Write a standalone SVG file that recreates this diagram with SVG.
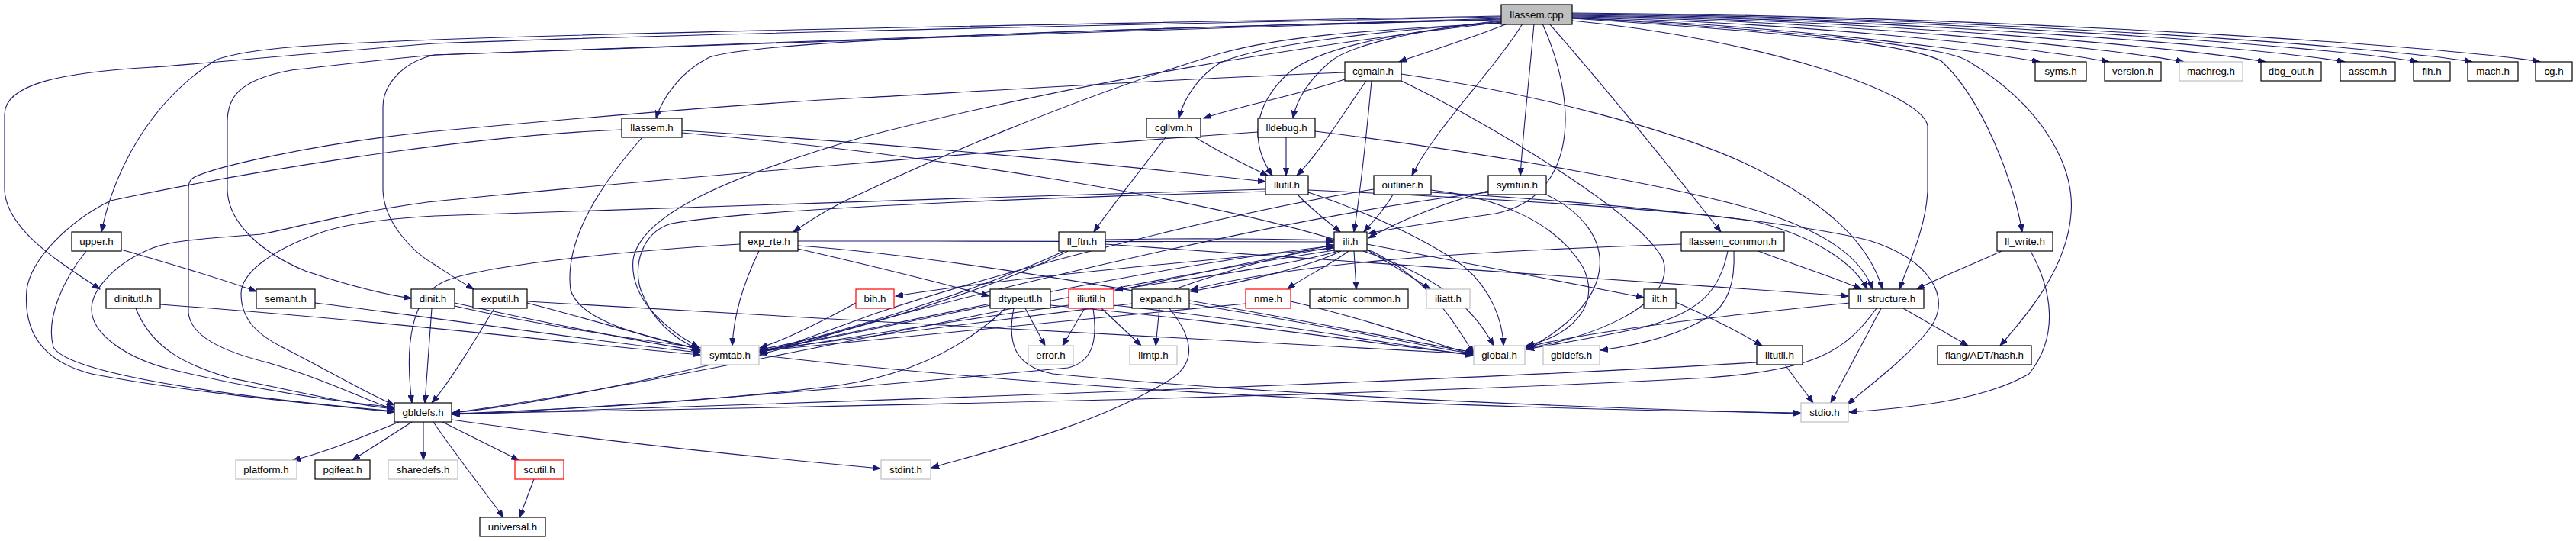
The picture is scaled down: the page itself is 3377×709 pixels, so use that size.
<svg xmlns="http://www.w3.org/2000/svg" width="3377" height="709" viewBox="0 0 3377 709">
<style>
text{font-family:"Liberation Sans",Arial,sans-serif;font-size:13.33px;text-anchor:middle;fill:#000}
rect{fill:#fff;stroke:#000;stroke-width:1.2}
.g rect{stroke:#bfbfbf}
.r rect{stroke:#ff0000}
.root rect{fill:#bfbfbf}
.e path{fill:none;stroke:#191970;stroke-width:1.1;marker-end:url(#a)}
</style>
<defs>
<marker id="a" markerWidth="11" markerHeight="8" refX="10" refY="4" orient="auto" markerUnits="userSpaceOnUse">
<path d="M0,0.3 L10,4 L0,7.7 z" fill="#191970" stroke="#191970" stroke-width="1"/>
</marker>
</defs>
<rect x="0" y="0" width="3377" height="709" style="fill:#fff;stroke:none"/>
<g class="e" id="connectors">
<!-- root -->
<path d="M1976,31 C1930,50 1870,68 1834,81"/>
<path d="M2061,24 C2300,30 2560,62 2674,81"/>
<path d="M2061,23 C2350,28 2660,62 2765,81"/>
<path d="M2061,22 C2400,26 2760,62 2863,81"/>
<path d="M2061,21 C2450,25 2860,62 2970,81"/>
<path d="M2061,20 C2500,24 2960,62 3074,81"/>
<path d="M2061,19 C2550,23 3060,62 3170,81"/>
<path d="M2061,18 C2600,22 3130,62 3241,81"/>
<path d="M2061,17 C2650,21 3220,62 3330,81"/>
<path d="M1968,26 C1500,36 1000,52 930,75 C890,95 868,130 860,155"/>
<path d="M1970,30 C1800,40 1650,60 1600,82 C1570,100 1552,130 1545,155"/>
<path d="M1968,27 C1850,40 1770,60 1745,80 C1715,105 1700,130 1695,155"/>
<path d="M1968,28 C1800,45 1720,70 1690,95 C1640,140 1640,190 1668,230"/>
<path d="M1996,31 C1960,90 1880,170 1851,230"/>
<path d="M2011,31 C2005,100 1997,170 1993,230"/>
<path d="M2022,31 C2075,150 2060,260 1960,280 C1880,292 1830,298 1794,306"/>
<path d="M2031,31 C2100,110 2190,220 2256,304"/>
<path d="M2061,24 C2300,40 2500,55 2545,80 C2600,130 2640,240 2651,304"/>
<path d="M2061,23 C2350,40 2550,60 2580,80 C2680,140 2720,220 2715,280 C2710,350 2660,410 2622,453"/>
<path d="M2061,27 C2300,50 2520,120 2527,165 L2527,250 C2525,300 2500,350 2490,379"/>
<path d="M1968,21 C1500,30 900,40 570,52 C420,58 330,62 284,78 C200,130 150,220 133,304"/>
<path d="M1968,22 C1500,32 900,44 570,57 C400,70 250,85 200,88 C80,95 6,110 6,150 L6,247 C6,300 80,345 131,379"/>
<path d="M1968,24 C1500,38 800,60 570,72 C480,80 420,88 382,92 C310,105 298,130 298,160 L298,247 C298,290 340,330 400,355 C450,372 500,385 539,391"/>
<path d="M1968,25 C1500,40 800,62 570,72 C530,80 502,110 502,140 L502,247 C502,290 540,330 570,347 C590,360 605,370 621,379"/>
<path d="M1968,30 C1800,40 1690,45 1600,70 C1400,130 1200,220 1130,253 C1090,270 1060,290 1040,304"/>
<path d="M1968,29 C1700,60 1400,110 1130,180 C960,230 840,280 830,340 C825,390 870,430 916,455"/>
<!-- cgmain -->
<path d="M1763,95 C1500,105 1200,125 1130,128 C900,140 600,170 560,173 C400,190 280,220 255,232 C248,236 247,240 247,250 L247,410 C250,440 290,460 350,475 C420,495 470,520 517,537"/>
<path d="M1763,104 C1700,125 1620,140 1578,155"/>
<path d="M1791,106 C1760,150 1730,200 1700,230"/>
<path d="M1798,106 C1792,170 1785,240 1775,304"/>
<path d="M1837,97 C2000,120 2200,170 2300,220 C2400,270 2450,320 2468,379"/>
<path d="M1837,106 C1950,160 2150,280 2180,340 C2200,400 2080,445 2001,456"/>
<!-- lldebug -->
<path d="M1686,180 L1686,230"/>
<path d="M1649,173 C1400,190 800,240 560,265 C450,280 380,300 342,307 C280,312 230,314 200,325 C150,345 120,380 120,405 C120,440 170,470 220,483 C330,510 430,525 517,534"/>
<path d="M1724,172 C1950,200 2200,245 2300,275 C2400,305 2440,340 2455,379"/>
<!-- llutil -->
<path d="M1701,255 C1720,275 1740,290 1757,304"/>
<path d="M1659,248 C1300,258 800,275 570,283 C480,288 440,298 420,305 C350,330 316,360 316,385 C316,420 340,440 370,455 C420,480 470,510 517,531"/>
<path d="M1659,251 C1400,258 1000,272 880,293 C840,305 830,350 840,380 C855,420 885,445 918,459"/>
<path d="M1715,249 C1950,260 2200,275 2300,290 C2380,310 2430,345 2448,379"/>
<path d="M1715,252 C1800,280 1880,320 1920,350 C1955,380 1970,420 1971,453"/>
<!-- outliner -->
<path d="M1826,255 C1815,275 1800,290 1788,304"/>
<path d="M1801,248 C1600,280 1300,360 1150,410 C1080,435 1030,455 996,462"/>
<path d="M1876,249 C1960,258 2040,290 2075,350 C2100,400 2060,440 2001,453"/>
<path d="M1876,252 C2100,265 2350,290 2450,315 C2530,340 2560,390 2530,430 C2500,470 2450,505 2422,530"/>
<!-- symfun -->
<path d="M1951,250 C1880,270 1830,292 1794,312"/>
<path d="M1951,252 C1700,280 1300,380 1150,420 C1080,440 1030,458 996,464"/>
<path d="M2027,255 C2120,300 2130,390 2001,458"/>
<!-- ili -->
<path d="M1749,325 C1600,340 1350,360 1174,388"/>
<path d="M1755,329 C1680,350 1560,365 1462,380"/>
<path d="M1758,329 C1720,348 1640,368 1561,382"/>
<path d="M1768,329 C1740,350 1705,365 1688,379"/>
<path d="M1775,329 L1778,379"/>
<path d="M1792,327 C1820,345 1850,362 1875,379"/>
<path d="M1792,320 C1900,340 2050,370 2155,390"/>
<path d="M1787,329 C1880,360 1930,400 1958,453"/>
<path d="M1749,322 C1500,350 1200,420 996,460"/>
<path d="M1749,328 C1400,380 900,500 593,541"/>
<!-- exp_rte -->
<path d="M970,320 C800,330 620,350 580,370 C540,390 530,450 540,528"/>
<path d="M995,329 C975,370 962,410 960,453"/>
<path d="M1046,322 C1300,340 1700,420 1932,462"/>
<path d="M1046,326 C1150,350 1230,370 1297,388"/>
<path d="M1046,316 C1300,316 1600,316 1748,317"/>
<!-- ll_ftn -->
<path d="M1449,320 C1800,345 2200,372 2423,388"/>
<path d="M1400,329 C1300,380 1100,440 996,458"/>
<path d="M1395,329 C1200,420 800,520 593,541"/>
<path d="M1449,314 C1550,312 1680,313 1748,315"/>
<!-- cgllvm -->
<path d="M1567,180 C1600,200 1630,215 1662,230"/>
<path d="M1528,180 C1490,230 1450,280 1434,304"/>
<!-- llassem.h -->
<path d="M815,170 C600,178 300,230 145,263 C90,290 40,340 35,380 C30,440 60,475 120,490 C250,515 420,530 517,540"/>
<path d="M842,180 C780,250 740,320 748,380 C760,420 840,440 917,458"/>
<path d="M894,171 C1200,190 1500,220 1659,238"/>
<path d="M894,174 C1200,200 1600,260 1800,330 C1880,370 1910,430 1932,463"/>
<!-- upper -->
<path d="M159,327 C220,345 290,365 336,382"/>
<path d="M113,329 C80,370 60,420 70,455 C90,490 300,520 517,539"/>
<!-- semant, dinitutl, dinit, exputil -->
<path d="M413,397 C600,420 800,450 918,462"/>
<path d="M178,404 C200,460 250,480 300,495 C400,515 460,530 517,536"/>
<path d="M210,399 C500,420 800,455 918,465"/>
<path d="M566,404 L557,528"/>
<path d="M596,397 C700,420 850,450 918,460"/>
<path d="M596,401 C900,470 1500,530 2360,541"/>
<path d="M648,404 C620,450 590,500 566,528"/>
<path d="M691,397 C780,420 860,445 918,458"/>
<path d="M691,395 C1100,420 1600,445 1931,464"/>
<!-- gbldefs -->
<path d="M523,553 C470,575 420,595 384,603"/>
<path d="M540,553 L462,603"/>
<path d="M555,553 L555,603"/>
<path d="M580,553 L680,603"/>
<path d="M568,553 C600,600 640,650 660,678"/>
<path d="M592,550 C800,580 1000,600 1154,614"/>
<path d="M700,628 L681,678"/>
<!-- bih -->
<path d="M1122,397 C1080,420 1030,445 996,456"/>
<!-- dtypeutl -->
<path d="M1344,404 L1370,453"/>
<path d="M1329,404 C1320,450 1330,480 1380,490 C1700,520 2100,535 2360,542"/>
<path d="M1318,404 C1270,450 1200,490 1100,505 C900,530 700,538 593,542"/>
<path d="M1298,400 C1200,420 1080,445 996,460"/>
<path d="M1377,400 C1600,420 1800,450 1931,465"/>
<!-- iliutil -->
<path d="M1422,404 L1393,453"/>
<path d="M1444,404 L1496,453"/>
<path d="M1433,404 C1440,450 1430,475 1400,482 C1100,510 800,535 593,543"/>
<path d="M1401,400 C1250,420 1100,445 996,461"/>
<path d="M1460,382 C1560,360 1680,335 1748,324"/>
<path d="M1460,400 C1650,420 1820,450 1931,466"/>
<!-- expand -->
<path d="M1520,404 L1515,453"/>
<path d="M1533,404 C1570,450 1565,480 1530,500 C1430,560 1300,590 1221,613"/>
<path d="M1484,398 C1300,420 1100,445 996,459"/>
<path d="M1559,398 C1700,420 1850,450 1931,464"/>
<path d="M1540,379 C1620,350 1700,330 1748,321"/>
<!-- nme -->
<path d="M1633,398 C1400,420 1150,445 996,460"/>
<path d="M1692,395 C1800,420 1880,450 1931,465"/>
<!-- ilt, iltutil -->
<path d="M2197,396 C2240,415 2280,435 2310,453"/>
<path d="M2340,478 L2377,528"/>
<path d="M2303,475 C1900,500 1000,530 593,543"/>
<!-- llassem_common -->
<path d="M2305,329 C2360,350 2410,365 2440,379"/>
<path d="M2273,329 C2275,370 2265,400 2240,415 C2200,440 2150,452 2098,459"/>
<path d="M2265,329 C2255,380 2230,410 2150,430 C2080,445 2030,452 2001,458"/>
<path d="M2204,320 C1900,330 1700,345 1561,380"/>
<!-- ll_write -->
<path d="M2624,329 C2590,345 2550,360 2513,379"/>
<path d="M2662,329 C2690,380 2700,440 2660,490 C2600,525 2500,535 2424,540"/>
<!-- ll_structure -->
<path d="M2495,404 L2580,453"/>
<path d="M2466,404 L2400,528"/>
<path d="M2460,404 C2420,460 2380,485 2240,495 C1800,520 1000,535 593,542"/>
<path d="M2424,397 C2300,410 2100,430 2001,455"/>
</g>
<g id="llassem_cpp" class="root"><rect x="1968" y="6" width="93" height="26"/><text x="2014.5" y="24">llassem.cpp</text></g>
<g id="cgmain_h"><rect x="1763" y="81" width="74" height="25"/><text x="1800" y="98">cgmain.h</text></g>
<g id="syms_h"><rect x="2668" y="81" width="67" height="25"/><text x="2701.5" y="98">syms.h</text></g>
<g id="version_h"><rect x="2759" y="81" width="74" height="25"/><text x="2796" y="98">version.h</text></g>
<g id="machreg_h" class="g"><rect x="2857" y="81" width="83" height="25"/><text x="2898.5" y="98">machreg.h</text></g>
<g id="dbg_out_h"><rect x="2964" y="81" width="79" height="25"/><text x="3003.5" y="98">dbg_out.h</text></g>
<g id="assem_h"><rect x="3068" y="81" width="72" height="25"/><text x="3104" y="98">assem.h</text></g>
<g id="fih_h"><rect x="3164" y="81" width="48" height="25"/><text x="3188" y="98">fih.h</text></g>
<g id="mach_h"><rect x="3235" y="81" width="66" height="25"/><text x="3268" y="98">mach.h</text></g>
<g id="cg_h"><rect x="3324" y="81" width="48" height="25"/><text x="3348" y="98">cg.h</text></g>
<g id="llassem_h"><rect x="815" y="155" width="79" height="25"/><text x="854.5" y="172">llassem.h</text></g>
<g id="cgllvm_h"><rect x="1503" y="155" width="71" height="25"/><text x="1538.5" y="172">cgllvm.h</text></g>
<g id="lldebug_h"><rect x="1649" y="155" width="75" height="25"/><text x="1686.5" y="172">lldebug.h</text></g>
<g id="llutil_h"><rect x="1659" y="230" width="56" height="25"/><text x="1687" y="247">llutil.h</text></g>
<g id="outliner_h"><rect x="1801" y="230" width="75" height="25"/><text x="1838.5" y="247">outliner.h</text></g>
<g id="symfun_h"><rect x="1951" y="230" width="76" height="25"/><text x="1989" y="247">symfun.h</text></g>
<g id="upper_h"><rect x="94" y="304" width="65" height="25"/><text x="126.5" y="321">upper.h</text></g>
<g id="exp_rte_h"><rect x="970" y="304" width="76" height="25"/><text x="1008" y="321">exp_rte.h</text></g>
<g id="ll_ftn_h"><rect x="1388" y="304" width="61" height="25"/><text x="1418.5" y="321">ll_ftn.h</text></g>
<g id="ili_h"><rect x="1749" y="304" width="43" height="25"/><text x="1770.5" y="321">ili.h</text></g>
<g id="llassem_common_h"><rect x="2204" y="304" width="135" height="25"/><text x="2271.5" y="321">llassem_common.h</text></g>
<g id="ll_write_h"><rect x="2618" y="304" width="73" height="25"/><text x="2654.5" y="321">ll_write.h</text></g>
<g id="dinitutl_h"><rect x="139" y="379" width="71" height="25"/><text x="174.5" y="396">dinitutl.h</text></g>
<g id="semant_h"><rect x="336" y="379" width="77" height="25"/><text x="374.5" y="396">semant.h</text></g>
<g id="dinit_h"><rect x="539" y="379" width="57" height="25"/><text x="567.5" y="396">dinit.h</text></g>
<g id="exputil_h"><rect x="620" y="379" width="71" height="25"/><text x="655.5" y="396">exputil.h</text></g>
<g id="bih_h" class="r"><rect x="1122" y="379" width="50" height="25"/><text x="1147" y="396">bih.h</text></g>
<g id="dtypeutl_h"><rect x="1298" y="379" width="79" height="25"/><text x="1337.5" y="396">dtypeutl.h</text></g>
<g id="iliutil_h" class="r"><rect x="1401" y="379" width="59" height="25"/><text x="1430.5" y="396">iliutil.h</text></g>
<g id="expand_h"><rect x="1484" y="379" width="75" height="25"/><text x="1521.5" y="396">expand.h</text></g>
<g id="nme_h" class="r"><rect x="1633" y="379" width="59" height="25"/><text x="1662.5" y="396">nme.h</text></g>
<g id="atomic_common_h"><rect x="1717" y="379" width="129" height="25"/><text x="1781.5" y="396">atomic_common.h</text></g>
<g id="iliatt_h" class="g"><rect x="1870" y="379" width="57" height="25"/><text x="1898.5" y="396">iliatt.h</text></g>
<g id="ilt_h"><rect x="2155" y="379" width="42" height="25"/><text x="2176" y="396">ilt.h</text></g>
<g id="ll_structure_h"><rect x="2424" y="379" width="98" height="25"/><text x="2473" y="396">ll_structure.h</text></g>
<g id="symtab_h" class="g"><rect x="919" y="453" width="76" height="25"/><text x="957" y="470">symtab.h</text></g>
<g id="error_h" class="g"><rect x="1348" y="453" width="59" height="25"/><text x="1377.5" y="470">error.h</text></g>
<g id="ilmtp_h" class="g"><rect x="1481" y="453" width="62" height="25"/><text x="1512" y="470">ilmtp.h</text></g>
<g id="global_h" class="g"><rect x="1932" y="453" width="67" height="25"/><text x="1965.5" y="470">global.h</text></g>
<g id="gbldefs_h_2" class="g"><rect x="2023" y="453" width="74" height="25"/><text x="2060" y="470">gbldefs.h</text></g>
<g id="iltutil_h"><rect x="2303" y="453" width="60" height="25"/><text x="2333" y="470">iltutil.h</text></g>
<g id="flang_ADT_hash_h"><rect x="2540" y="453" width="123" height="25"/><text x="2601.5" y="470">flang/ADT/hash.h</text></g>
<g id="gbldefs_h"><rect x="517" y="528" width="75" height="25"/><text x="554.5" y="545">gbldefs.h</text></g>
<g id="stdio_h" class="g"><rect x="2361" y="528" width="62" height="25"/><text x="2392" y="545">stdio.h</text></g>
<g id="platform_h" class="g"><rect x="309" y="603" width="80" height="25"/><text x="349" y="620">platform.h</text></g>
<g id="pgifeat_h"><rect x="413" y="603" width="72" height="25"/><text x="449" y="620">pgifeat.h</text></g>
<g id="sharedefs_h" class="g"><rect x="509" y="603" width="91" height="25"/><text x="554.5" y="620">sharedefs.h</text></g>
<g id="scutil_h" class="r"><rect x="675" y="603" width="64" height="25"/><text x="707" y="620">scutil.h</text></g>
<g id="stdint_h" class="g"><rect x="1155" y="603" width="65" height="25"/><text x="1187.5" y="620">stdint.h</text></g>
<g id="universal_h"><rect x="629" y="678" width="86" height="25"/><text x="672" y="695">universal.h</text></g>
</svg>
